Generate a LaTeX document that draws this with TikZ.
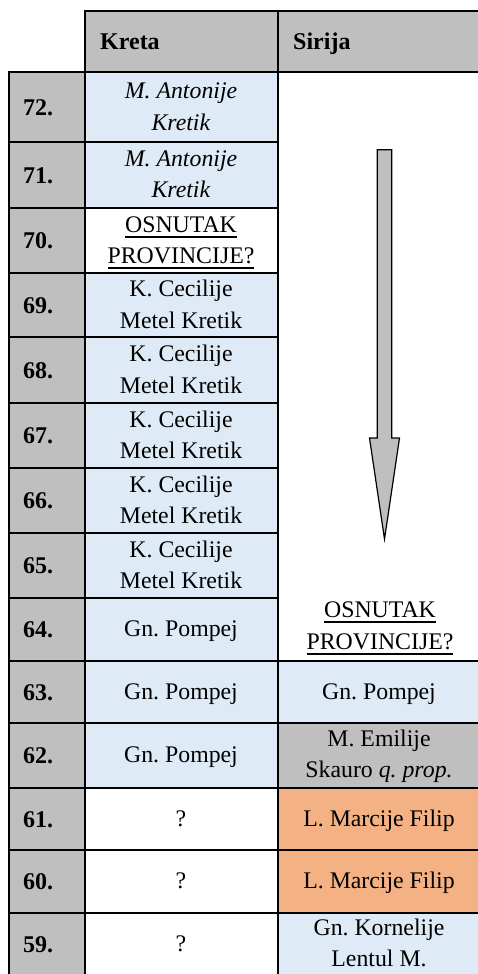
\documentclass[tikz,border=0pt]{standalone}
\usepackage{fontspec}
\setmainfont{Liberation Serif}
\frenchspacing
\definecolor{hdrgray}{HTML}{BFBFBF}
\definecolor{cellblue}{HTML}{DEEAF6}
\definecolor{cellorange}{HTML}{F4B183}
\newcommand{\myul}[1]{\setbox0\hbox{#1}\rlap{\rule[-5.3pt]{\wd0}{1.6pt}}\box0}
\begin{document}
\begin{tikzpicture}[x=1pt,y=-1pt,
  gridline/.style={line width=1.8pt, line cap=rect},
  txt/.style={anchor=base, inner sep=0pt, font=\fontsize{23.8}{31.7}\selectfont},
  yr/.style={anchor=base west, inner sep=0pt, font=\fontsize{24}{31.7}\selectfont\bfseries},
  arrowshape/.style={fill=hdrgray, draw=black, line width=1.2pt, line join=miter}]
\useasboundingbox (0,0) rectangle (478,974);
\clip (0,0) rectangle (478,974);
% fills
\fill[hdrgray] (85,11) rectangle (482,72);
\fill[hdrgray] (9,72) rectangle (85,980);
\fill[cellblue] (85,72) rectangle (278,208);
\fill[cellblue] (85,273) rectangle (278,788);
\fill[cellblue] (278,661) rectangle (482,723);
\fill[hdrgray] (278,723) rectangle (482,788);
\fill[cellorange] (278,788) rectangle (482,913);
\fill[cellblue] (278,913) rectangle (482,980);
% lines
\draw[gridline] (85,11) -- (482,11);
\draw[gridline] (85,11) -- (85,980);
\draw[gridline] (278,11) -- (278,980);
\draw[gridline] (9,72) -- (9,980);
\draw[gridline] (9,72) -- (482,72);
\foreach \yy in {142,208,273,337,403,468,533,598} \draw[gridline] (9,\yy) -- (278,\yy);
\foreach \yy in {661,723,788,850,913} \draw[gridline] (9,\yy) -- (482,\yy);
% arrow
\draw[arrowshape] (377.3,149.8) -- (391.7,149.8) -- (391.7,438) -- (399.5,438) -- (384.5,539) -- (369.5,438) -- (377.3,438) -- cycle;
% header
\node[yr] (hk) at (100,50) {Kreta};
\node[yr] (hs) at (293,50) {Sirija};
% years
\foreach \n/\c in {72/107,71/175,70/240.5,69/305,68/370,67/435.5,66/500.5,65/565.5,64/629.5,63/692,62/755.5,61/819,60/881.5,59/944}
  \node[yr] (y\n) at (23,\c+8.3) {\n.};
% Kreta
\node[txt] (k72a) at (181,98.3) {\textit{M. Antonije}};
\node[txt] (k72b) at (181,130) {\textit{Kretik}};
\node[txt] (k71a) at (181,166.5) {\textit{M. Antonije}};
\node[txt] (k71b) at (181,197.8) {\textit{Kretik}};
\node[txt] (k70a) at (181,232.3) {\myul{OSNUTAK}};
\node[txt] (k70b) at (181,263.6) {\myul{PROVINCIJE?}};
\foreach \n/\c in {69/305,68/370,67/435.5,66/500.5,65/565.5} {
  \node[txt] (k\n a) at (181,\c-8.5) {K. Cecilije};
  \node[txt] (k\n b) at (181,\c+23) {Metel Kretik};
}
\foreach \n/\c in {64/629.5,63/692,62/755.5}
  \node[txt] (k\n) at (181,\c+7) {Gn. Pompej};
\foreach \n/\c in {61/819,60/881.5,59/944}
  \node[txt] (k\n) at (181,\c+7) {?};
% Sirija
\node[txt] (s64a) at (380,617.3) {\myul{OSNUTAK}};
\node[txt] (s64b) at (380,649.3) {\myul{PROVINCIJE?}};
\node[txt] (s63) at (379,699) {Gn. Pompej};
\node[txt] (s62a) at (379,746) {M. Emilije};
\node[txt] (s62b) at (379,777) {Skauro \textit{q. prop.}};
\node[txt] (s61) at (379,826) {L. Marcije Filip};
\node[txt] (s60) at (379,888.5) {L. Marcije Filip};
\node[txt] (s59a) at (379,935.5) {Gn. Kornelije};
\node[txt] (s59b) at (379,966.7) {Lentul M.};
\end{tikzpicture}
\end{document}
